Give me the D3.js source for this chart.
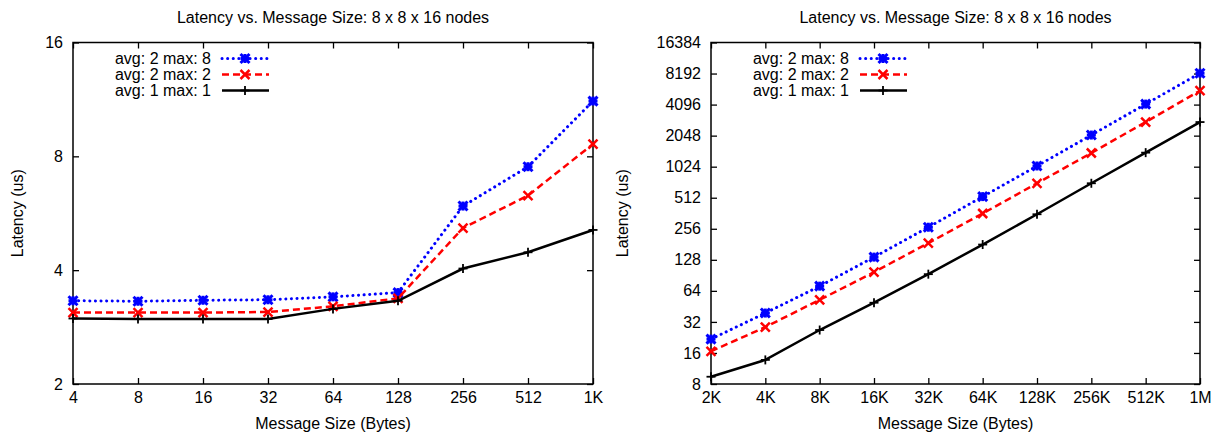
<!DOCTYPE html>
<html>
<head>
<meta charset="utf-8" />
<title>Latency vs. Message Size</title>
<script src="https://d3js.org/d3.v7.min.js"></script>
<style>
  body { margin: 0; background: #fff; }
  text { font-family: "Liberation Sans", Arial, sans-serif; font-size: 16px; fill: #000; }
</style>
</head>
<body>
<script>
// message sizes (x categories)
var sizesSmall = ["4", "8", "16", "32", "64", "128", "256", "512", "1K"];
var sizesLarge = ["2K", "4K", "8K", "16K", "32K", "64K", "128K", "256K", "512K", "1M"];

// latency (us), small messages
var smallAvg2Max8 = [3.32, 3.31, 3.33, 3.34, 3.40, 3.49, 5.91, 7.51, 11.2];
var smallAvg2Max2 = [3.09, 3.09, 3.09, 3.10, 3.21, 3.37, 5.17, 6.30, 8.62];
var smallAvg1Max1 = [2.98, 2.97, 2.97, 2.97, 3.16, 3.32, 4.04, 4.46, 5.11];

// latency (us), large messages
var largeAvg2Max8 = [21.8, 39.0, 71.1, 136, 265, 525, 1040, 2075, 4142, 8250];
var largeAvg2Max2 = [16.6, 28.5, 52.4, 97.2, 186, 360, 707, 1390, 2773, 5583];
var largeAvg1Max1 = [9.41, 13.7, 26.7, 49.1, 92.9, 180, 354, 707, 1401, 2773];

// y tick values
var yTicksSmall = [2, 4, 8, 16];
var yTicksLarge = [8, 16, 32, 64, 128, 256, 512, 1024, 2048, 4096, 8192, 16384];

var seriesNames = ["avg: 2 max: 8", "avg: 2 max: 2", "avg: 1 max: 1"];

var svg = d3.select("body").append("svg")
    .attr("width", 1215)
    .attr("height", 439);

var styles = [
  { color: "#0000ff", dash: "0.1,5.5", width: 3, cap: "round", marker: "star" },
  { color: "#ff0000", dash: "7,4", width: 2.5, cap: "butt", marker: "x" },
  { color: "#000000", dash: null, width: 2.5, cap: "butt", marker: "plus" }
];

function drawMarker(g, type, x, y, color) {
  var s = 4.5;
  var w = type == "star" ? 3 : (type == "x" ? 2.5 : 1.8);
  if (type == "plus" || type == "star") {
    g.append("line").attr("x1", x - s).attr("x2", x + s).attr("y1", y).attr("y2", y)
      .attr("stroke", color).attr("stroke-width", w);
    g.append("line").attr("x1", x).attr("x2", x).attr("y1", y - s).attr("y2", y + s)
      .attr("stroke", color).attr("stroke-width", w);
  }
  if (type == "x" || type == "star") {
    g.append("line").attr("x1", x - s).attr("x2", x + s).attr("y1", y - s).attr("y2", y + s)
      .attr("stroke", color).attr("stroke-width", w);
    g.append("line").attr("x1", x - s).attr("x2", x + s).attr("y1", y + s).attr("y2", y - s)
      .attr("stroke", color).attr("stroke-width", w);
  }
}

function drawPlot(opt) {
  var g = svg.append("g");
  var x = d3.scalePoint().domain(opt.cats).range([opt.left, opt.right]).padding(0);
  var y = d3.scaleLog().base(2).domain(opt.yDomain).range([opt.bottom, opt.top]);

  // axes, ticks pointing inward on all four sides
  var ax = [
    { a: d3.axisBottom(x), t: "translate(0," + opt.bottom + ")", lab: true, pad: 8 },
    { a: d3.axisTop(x), t: "translate(0," + opt.top + ")", lab: false, pad: 8 },
    { a: d3.axisLeft(y).tickValues(opt.yTicks).tickFormat(d3.format("d")), t: "translate(" + opt.left + ",0)", lab: true, pad: 10 },
    { a: d3.axisRight(y).tickValues(opt.yTicks), t: "translate(" + opt.right + ",0)", lab: false, pad: 10 }
  ];
  ax.forEach(function (d) {
    d.a.tickSizeInner(-6).tickSizeOuter(0).tickPadding(d.pad);
    if (!d.lab) d.a.tickFormat("");
    var ag = g.append("g").attr("transform", d.t).call(d.a);
    ag.select(".domain").remove();
    ag.selectAll("line").attr("stroke", "#000").attr("stroke-width", 1.3);
    ag.selectAll("text").attr("font-size", 16).attr("font-family", "Liberation Sans, Arial, sans-serif");
  });

  g.append("rect")
    .attr("x", opt.left).attr("y", opt.top)
    .attr("width", opt.right - opt.left).attr("height", opt.bottom - opt.top)
    .attr("fill", "none").attr("stroke", "#000").attr("stroke-width", 1.5);

  // series
  opt.series.forEach(function (vals, i) {
    var st = styles[i];
    var line = d3.line()
      .x(function (d, j) { return x(opt.cats[j]); })
      .y(function (d) { return y(d); });
    g.append("path")
      .attr("d", line(vals))
      .attr("fill", "none")
      .attr("stroke", st.color)
      .attr("stroke-width", st.width)
      .attr("stroke-linecap", st.cap)
      .attr("stroke-dasharray", st.dash);
    vals.forEach(function (v, j) {
      drawMarker(g, st.marker, x(opt.cats[j]), y(v), st.color);
    });
  });

  // legend
  seriesNames.forEach(function (name, i) {
    var st = styles[i];
    var ly = opt.top + 16 + i * 16;
    g.append("text").attr("x", opt.legendX).attr("y", ly + 5.5)
      .attr("text-anchor", "end").text(name);
    g.append("line")
      .attr("x1", opt.legendX + 11).attr("x2", opt.legendX + 58)
      .attr("y1", ly).attr("y2", ly)
      .attr("stroke", st.color).attr("stroke-width", st.width)
      .attr("stroke-linecap", st.cap).attr("stroke-dasharray", st.dash);
    drawMarker(g, st.marker, opt.legendX + 34, ly, st.color);
  });

  var cx = (opt.left + opt.right) / 2;
  g.append("text").attr("x", cx).attr("y", 23).attr("text-anchor", "middle")
    .text("Latency vs. Message Size: 8 x 8 x 16 nodes");
  g.append("text").attr("x", cx).attr("y", 429).attr("text-anchor", "middle")
    .text("Message Size (Bytes)");
  g.append("text")
    .attr("transform", "translate(" + opt.yLabelX + "," + ((opt.top + opt.bottom) / 2) + ") rotate(-90)")
    .attr("text-anchor", "middle")
    .text("Latency (us)");
}

drawPlot({
  cats: sizesSmall, left: 73, right: 593, top: 42.5, bottom: 384,
  yDomain: [2, 16], yTicks: yTicksSmall,
  series: [smallAvg2Max8, smallAvg2Max2, smallAvg1Max1],
  legendX: 211, yLabelX: 23
});

drawPlot({
  cats: sizesLarge, left: 711, right: 1200, top: 42.5, bottom: 384,
  yDomain: [8, 16384], yTicks: yTicksLarge,
  series: [largeAvg2Max8, largeAvg2Max2, largeAvg1Max1],
  legendX: 849, yLabelX: 628
});
</script>
</body>
</html>
